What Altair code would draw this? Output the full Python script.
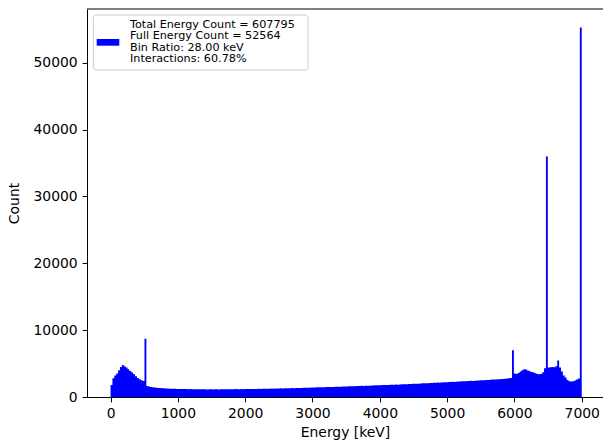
import altair as alt
import pandas as pd

# Energy spectrum, 250 bins of 28 keV between 0 and 7000 keV
BIN_WIDTH = 28.0
counts = [
    # 0 - 532 keV: backscatter hump and 511 keV annihilation line
    1800, 2800, 3200, 3500, 4000, 4500, 4800, 4600, 4400, 4150,
    3900, 3650, 3400, 3100, 2850, 2650, 2500, 2400, 8700,
    # Compton continuum
    1650, 1560, 1500, 1460, 1420, 1380, 1350, 1330, 1310, 1290,
    1280, 1260, 1250, 1240, 1230, 1220, 1200, 1210, 1190, 1200,
    1180, 1190, 1170, 1180, 1160, 1170, 1160, 1150, 1170, 1150,
    1160, 1150, 1140, 1160, 1150, 1140, 1150, 1160, 1140, 1150,
    1160, 1150, 1170, 1160, 1150, 1170, 1160, 1180, 1160, 1170,
    1180, 1170, 1190, 1180, 1200, 1190, 1200, 1210, 1200, 1220,
    1210, 1230, 1220, 1240, 1230, 1250, 1260, 1250, 1270, 1260,
    1280, 1290, 1280, 1300, 1310, 1300, 1320, 1330, 1320, 1340,
    1350, 1360, 1350, 1370, 1380, 1390, 1400, 1410, 1420, 1430,
    1440, 1450, 1460, 1450, 1470, 1480, 1490, 1500, 1510, 1500,
    1520, 1530, 1550, 1540, 1560, 1570, 1580, 1600, 1590, 1610,
    1620, 1640, 1630, 1650, 1670, 1660, 1680, 1700, 1690, 1710,
    1730, 1740, 1750, 1770, 1760, 1780, 1800, 1790, 1810, 1830,
    1820, 1840, 1860, 1850, 1880, 1890, 1900, 1920, 1910, 1940,
    1950, 1970, 1980, 2000, 1990, 2020, 2040, 2050, 2070, 2060,
    2090, 2100, 2120, 2130, 2150, 2140, 2170, 2190, 2200, 2220,
    2230, 2250, 2270, 2260, 2290, 2310, 2320, 2340, 2360, 2350,
    2380, 2400, 2420, 2410, 2440, 2460, 2470, 2490, 2510, 2520,
    2540, 2560, 2580, 2600, 2610, 2630, 2650, 2670, 2690, 2710,
    2730, 2760, 2790, 2850,
    # double escape, single escape and full energy region
    7000, 3500, 3450, 3600, 3800, 4000, 4150, 4100, 3950, 3850,
    3750, 3650, 3550, 3450, 3400, 3450, 3700, 4300, 35950, 4400,
    4450, 4500, 4450, 4600, 5450, 4400, 3800, 3200, 2900, 2550,
    2350, 2300, 2350, 2450, 2600, 2750, 55250,
]

legend_lines = [
    "Total Energy Count = 607795",
    "Full Energy Count = 52564",
    "Bin Ratio: 28.00 keV",
    "Interactions: 60.78%",
]
x_ticks = [0, 1000, 2000, 3000, 4000, 5000, 6000, 7000]
y_ticks = [0, 10000, 20000, 30000, 40000, 50000]

# histogram outline as a step function: each bin's count holds from its
# left edge to the next edge; the final edge repeats the last count
edges = [i * BIN_WIDTH for i in range(len(counts) + 1)]
hist = pd.DataFrame({"edge": edges, "count": counts + [counts[-1]]})

W, H = 516, 388
BLUE = "#0000ff"
FONT = "DejaVu Sans"

x_scale = alt.Scale(domain=[-350, 7316], nice=False, zero=False)
y_scale = alt.Scale(domain=[0, 58027], nice=False)

bars = alt.Chart(hist).mark_area(
    color=BLUE, interpolate="step-after", clip=True, opacity=1
).encode(
    x=alt.X("edge:Q", scale=x_scale,
            axis=alt.Axis(values=x_ticks, title="Energy [keV]", format="d")),
    y=alt.Y("count:Q", scale=y_scale,
            axis=alt.Axis(values=y_ticks, title="Count", format="d")),
)

one = alt.Data(values=[{}])

top_spine = alt.Chart(one).mark_rule(color="black", strokeWidth=1).encode(
    x=alt.value(0), x2=alt.value(W), y=alt.value(0)
)

legend_box = alt.Chart(one).mark_rect(
    fill="white", fillOpacity=0.8, stroke="#cccccc", strokeWidth=1, cornerRadius=3
).encode(
    x=alt.value(6.3), x2=alt.value(221), y=alt.value(6), y2=alt.value(61)
)

legend_patch = alt.Chart(one).mark_rect(color=BLUE).encode(
    x=alt.value(9.7), x2=alt.value(32.3), y=alt.value(30), y2=alt.value(36.7)
)

legend_text = alt.Chart(one).mark_text(
    text=legend_lines, align="left", baseline="top", lineHeight=11.6,
    font=FONT, fontSize=11.2, color="black"
).encode(x=alt.value(43), y=alt.value(9.5))

chart = alt.layer(bars, top_spine, legend_box, legend_patch, legend_text).properties(
    width=W, height=H,
    autosize=alt.AutoSizeParams(type="none"),
    padding={"left": 87, "top": 9, "right": 0, "bottom": 45},
    background="white",
).configure_view(stroke=None).configure_axis(
    grid=False,
    domainColor="black", domainWidth=1,
    tickColor="black", tickSize=4.9, tickWidth=1,
    labelFont=FONT, labelFontSize=13.9, labelColor="black", labelPadding=4.9,
    titleFont=FONT, titleFontSize=13.9, titleFontWeight="normal", titleColor="black",
).configure_axisX(titlePadding=5).configure_axisY(titlePadding=12)

chart.save("out.html", embed_options={"renderer": "svg", "actions": False})
